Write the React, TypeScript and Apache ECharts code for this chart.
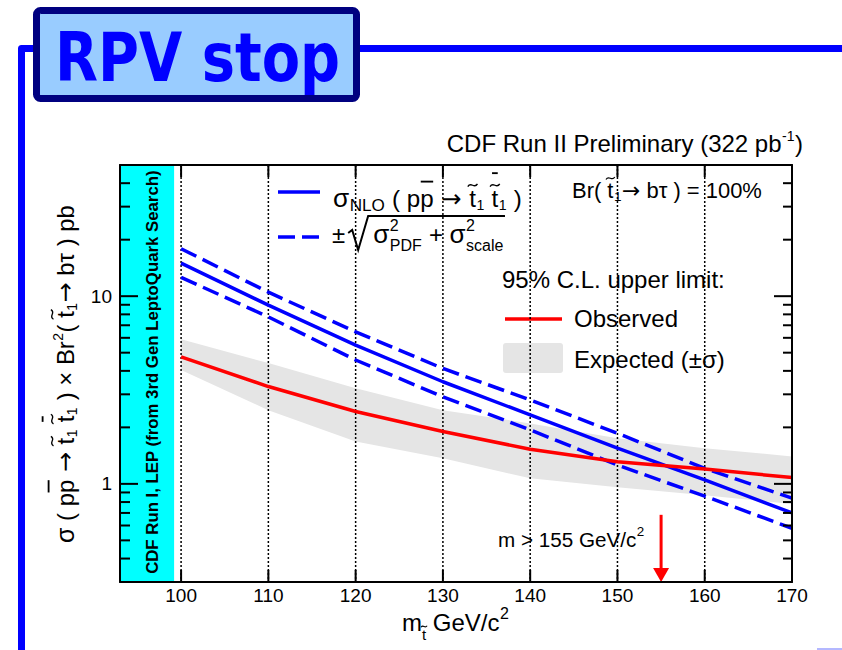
import React, { useEffect, useRef } from 'react';
import * as echarts from 'echarts';

// ---- data ----
const MASS = [100, 110, 120, 130, 140, 150, 160, 170];
const OBSERVED = [4.75, 3.3, 2.43, 1.9, 1.53, 1.31, 1.2, 1.08];
const EXPECTED_UP = [5.9, 4.4, 3.23, 2.47, 2.1, 1.75, 1.55, 1.4];
const EXPECTED_LO = [4.04, 2.47, 1.68, 1.37, 1.07, 0.96, 0.87, 0.78];
const NLO = [15.0, 8.96, 5.49, 3.5, 2.33, 1.55, 1.05, 0.7];
const NLO_UP = [17.9, 10.5, 6.46, 4.12, 2.8, 1.86, 1.21, 0.84];
const NLO_LO = [12.6, 7.76, 4.57, 2.91, 1.94, 1.26, 0.86, 0.58];
const X_RANGE = [93, 170];
const Y_RANGE = [0.3, 50];
const X_TICKS = [100, 110, 120, 130, 140, 150, 160, 170];
const GRID_X = [100, 110, 120, 130, 140, 150, 160];
const Y_MAJOR = [1, 10];
const Y_MINOR = [0.4, 0.5, 0.6, 0.7, 0.8, 0.9, 2, 3, 4, 5, 6, 7, 8, 9, 20, 30, 40];
const EXCLUDED = [93, 99.2];
const LIMIT_MASS = 155;
const ARROW_Y = [0.684, 0.3];

const FONT = 'Liberation Sans';
const ARROW_FONT = 'DejaVu Sans';
const K = 0.35;
const BLUE = '#0000ff';
const RED = '#ff0000';

let measureCtx: CanvasRenderingContext2D | null = null;
function tw(text: string, size: number, family = FONT, bold = false): number {
  if (!measureCtx) measureCtx = document.createElement('canvas').getContext('2d');
  if (!measureCtx) return text.length * size * 0.55;
  measureCtx.font = `${bold ? 'bold ' : ''}${size}px "${family}"`;
  return measureCtx.measureText(text).width;
}

function txt(text: string, x: number, base: number, size: number, o: any = {}) {
  const align = o.align || 'left';
  return {
    type: 'text',
    x,
    y: base - K * size,
    z: o.z ?? 1,
    scaleX: o.scaleX ?? 1,
    style: {
      text,
      fontSize: size,
      fontFamily: o.family || FONT,
      fontWeight: o.bold ? 'bold' : 'normal',
      fill: o.fill || '#000',
      align,
      textAlign: align,
      verticalAlign: 'middle',
      textVerticalAlign: 'middle',
    },
  };
}

type Piece = {
  t?: string; s: number; dy?: number; tilde?: boolean; bar?: number;
  sup?: string; sub?: string; ss?: number; supDy?: number; subDy?: number;
  bold?: boolean; gap?: number; family?: string;
};

function scalePieces(ps: Piece[], f: number): Piece[] {
  return ps.map((p) => ({
    ...p,
    s: p.s * f,
    dy: p.dy !== undefined ? p.dy * f : undefined,
    ss: p.ss !== undefined ? p.ss * f : undefined,
    supDy: p.supDy !== undefined ? p.supDy * f : undefined,
    subDy: p.subDy !== undefined ? p.subDy * f : undefined,
    gap: p.gap !== undefined ? p.gap * f : undefined,
  }));
}

function layout(pieces: Piece[], family = FONT, fill = '#000', z = 1) {
  const els: any[] = [];
  let x = 0;
  const marks: number[] = [];
  for (const p of pieces) {
    if (p.gap) { marks.push(x); x += p.gap; }
    if (!p.t) continue;
    const fam = p.family || family;
    const w = tw(p.t, p.s, fam, p.bold);
    const b = p.dy || 0;
    els.push(txt(p.t, x, b, p.s, { family: fam, bold: p.bold, fill, z }));
    if (p.tilde) {
      const tw2 = Math.max(6, 0.4 * p.s);
      const cx = x + w / 2;
      const cy = b - 0.9 * p.s;
      const a = Math.max(1.5, 0.11 * p.s);
      els.push({
        type: 'bezierCurve', z,
        shape: {
          x1: cx - tw2 / 2, y1: cy + a * 0.5,
          cpx1: cx - tw2 / 6, cpy1: cy - a * 1.6,
          cpx2: cx + tw2 / 6, cpy2: cy + a * 1.6,
          x2: cx + tw2 / 2, y2: cy - a * 0.5,
        },
        style: { stroke: fill, lineWidth: Math.max(1.1, p.s / 18), fill: null },
      });
    }
    if (p.bar) {
      els.push({
        type: 'line', z,
        shape: { x1: x + 0.5, y1: b - p.bar * p.s, x2: x + w - 0.5, y2: b - p.bar * p.s },
        style: { stroke: fill, lineWidth: Math.max(1.5, p.s / 13) },
      });
    }
    let adv = w;
    if (p.sup || p.sub) {
      const ss = p.ss || Math.round(p.s * 0.6);
      let w2 = 0;
      const sx = x + w + 0.5;
      if (p.sup) {
        els.push(txt(p.sup, sx, b + (p.supDy ?? -0.45 * p.s), ss, { family, fill, z }));
        w2 = Math.max(w2, tw(p.sup, ss, family));
      }
      if (p.sub) {
        els.push(txt(p.sub, sx, b + (p.subDy ?? 0.22 * p.s), ss, { family, fill, z }));
        w2 = Math.max(w2, tw(p.sub, ss, family));
      }
      adv += w2 + 1;
    }
    x += adv;
  }
  return { els, width: x, marks };
}

function placed(pieces0: Piece[], x: number, base: number, o: any = {}) {
  let pieces = pieces0;
  if (o.fit) {
    const L0 = layout(pieces, o.family || FONT);
    pieces = scalePieces(pieces, o.fit / L0.width);
  }
  const L = layout(pieces, o.family || FONT, o.fill || '#000', o.z ?? 1);
  const anchor = o.anchor || 'left';
  const off = anchor === 'left' ? 0 : anchor === 'center' ? -L.width / 2 : -L.width;
  const s0 = pieces[0].s;
  return {
    group: {
      type: 'group', x, y: base, rotation: o.rotation || 0,
      children: [{ type: 'group', x: off, y: o.centered ? K * s0 : 0, children: L.els }],
    },
    L,
  };
}

function buildGraphic() {
  const g: any[] = [];
  // blue frame
  g.push({
    type: 'polyline', z: 0,
    shape: { points: [[21.5, 660], [21.5, 48.5], [860, 48.5]] },
    style: { stroke: BLUE, lineWidth: 7, lineJoin: 'round', fill: null },
  });
  g.push({ type: 'rect', z: 0, shape: { x: 817, y: 648, width: 25, height: 2 }, style: { fill: '#b4b8ff' } });
  // title box
  g.push({
    type: 'rect', z: 0,
    shape: { x: 36.5, y: 10.5, width: 320, height: 88, r: 4 },
    style: { fill: '#99ccff', stroke: '#000080', lineWidth: 7 },
  });
  const tSize = 67;
  const tW = tw('RPV stop', tSize, 'DejaVu Sans', true);
  g.push(txt('RPV stop', 55, 82, tSize, { family: 'DejaVu Sans', bold: true, fill: BLUE, z: 0, scaleX: 285 / tW }));

  // CDF header
  g.push(placed([
    { t: 'CDF Run II Preliminary (322 pb', s: 24, sup: '-1', ss: 14, supDy: -11 },
    { t: ')', s: 24 },
  ], 803, 152, { anchor: 'right' }).group);

  // y axis title (rotated)
  const yt: Piece[] = [
    { t: 'σ', s: 25 },
    { t: ' ( p', s: 24 },
    { t: 'p', s: 24, bar: 1.05 },
    { t: ' → ', s: 24, family: ARROW_FONT },
    { t: 't', s: 24, tilde: true, sub: '1', ss: 14, subDy: 3 },
    { t: ' ', s: 24 },
    { t: 't', s: 24, tilde: true, bar: 1.3, sub: '1', ss: 14, subDy: 3 },
    { t: ' ) × Br', s: 24, sup: '2', ss: 14, supDy: -11 },
    { t: '( ', s: 24 },
    { t: 't', s: 24, tilde: true, sub: '1', ss: 14, subDy: 3 },
    { t: '→', s: 24, family: ARROW_FONT },
    { t: ' bτ ) pb', s: 24 },
  ];
  g.push(placed(yt, 65, 374, { anchor: 'center', rotation: Math.PI / 2, centered: true, fit: 338 }).group);

  // cyan band text (rotated)
  g.push(placed([{ t: 'CDF Run I, LEP (from 3rd Gen LeptoQuark Search)', s: 15, bold: true }], 152, 372,
    { anchor: 'center', rotation: Math.PI / 2, centered: true, z: 6, fit: 404 }).group);

  // x axis title
  g.push(placed([
    { t: 'm', s: 24 },
    { t: 't', s: 15, dy: 9, tilde: true },
    { t: ' GeV/c', s: 24, sup: '2', ss: 16, supDy: -12 },
  ], 402, 631).group);

  // legend: NLO
  g.push({ type: 'line', z: 1, shape: { x1: 278, y1: 192, x2: 320, y2: 192 }, style: { stroke: BLUE, lineWidth: 3.5 } });
  g.push({ type: 'line', z: 1, shape: { x1: 278, y1: 237, x2: 322, y2: 237 }, style: { stroke: BLUE, lineWidth: 3.5, lineDash: [17, 7] } });
  g.push(placed([
    { t: 'σ', s: 26, sub: 'NLO', ss: 17, subDy: 4 },
    { t: ' ( p', s: 24 },
    { t: 'p', s: 24, bar: 1.05 },
    { t: ' → ', s: 24, family: ARROW_FONT },
    { t: 't', s: 24, tilde: true, sub: '1', ss: 14, subDy: 3 },
    { t: ' ', s: 24 },
    { t: 't', s: 24, tilde: true, bar: 1.4, sub: '1', ss: 14, subDy: 3 },
    { t: ' )', s: 24 },
  ], 333, 207, { fit: 189 }).group);

  const l2 = placed([
    { t: '±', s: 24 },
    { gap: 28, s: 24 },
    { t: 'σ', s: 26, sup: '2', sub: 'PDF', ss: 16, supDy: -12, subDy: 8 },
    { t: ' + ', s: 24 },
    { t: 'σ', s: 26, sup: '2', sub: 'scale', ss: 16, supDy: -12, subDy: 8 },
  ], 332, 243);
  const xs = 332 + l2.L.marks[0] + 3;
  const xe = 332 + l2.L.width + 1;
  g.push(l2.group);
  g.push({
    type: 'polyline', z: 1,
    shape: { points: [[xs, 233], [xs + 4, 230], [xs + 10, 250], [xs + 20, 216], [xe, 216]] },
    style: { stroke: '#000', lineWidth: 2, fill: null },
  });

  // Br text
  g.push(placed([
    { t: 'Br( ', s: 21 },
    { t: 't', s: 21, tilde: true, sub: '1', ss: 13, subDy: 3 },
    { t: '→', s: 21, family: ARROW_FONT },
    { t: ' bτ ) = 100%', s: 21 },
  ], 572, 198, { fit: 190 }).group);

  // limit legend
  g.push(txt('95% C.L. upper limit:', 502, 288, 24));
  g.push({ type: 'line', z: 1, shape: { x1: 505, y1: 319, x2: 562, y2: 319 }, style: { stroke: RED, lineWidth: 3.5 } });
  g.push(txt('Observed', 574, 327, 24));
  g.push({ type: 'rect', z: 1, shape: { x: 503, y: 343, width: 60, height: 30, r: 3 }, style: { fill: '#e5e5e5' } });
  g.push(txt('Expected (±σ)', 574, 368, 24));

  // arrow annotation
  g.push(placed([{ t: 'm > 155 GeV/c', s: 20, sup: '2', ss: 13, supDy: -10 }], 498, 547, { fit: 147 }).group);
  return g;
}

export default function App() {
  const ref = useRef<HTMLDivElement>(null);
  useEffect(() => {
    if (!ref.current) return;
    const chart = echarts.init(ref.current, null, { renderer: 'svg' });
    const pairs = (ys: number[]) => MASS.map((m, i) => [m, ys[i]]);

    const custom = (name: string, z: number, data: any[], renderItem: any) => ({
      type: 'custom', name, z, silent: true, data, renderItem, clip: false,
      xAxisIndex: 0, yAxisIndex: 0,
    });

    const line = (name: string, ys: number[], color: string, dash: any) => ({
      type: 'line', name, z: 3, data: pairs(ys), symbol: 'none', silent: true,
      lineStyle: { color, width: 3.5, type: dash },
    });

    const axisCommon = {
      min: X_RANGE[0], max: X_RANGE[1], z: 10,
      axisLine: { show: true, onZero: false, lineStyle: { color: '#000', width: 2 } },
      axisTick: { show: false },
      splitLine: { show: false },
    };
    const yCommon = {
      type: 'log', logBase: 10, min: Y_RANGE[0], max: Y_RANGE[1], z: 10,
      axisLine: { show: true, onZero: false, lineStyle: { color: '#000', width: 2 } },
      axisTick: { show: false },
      splitLine: { show: false },
      minorTick: { show: false },
      minorSplitLine: { show: false },
    };

    chart.setOption({
      animation: false,
      backgroundColor: '#fff',
      grid: { left: 120, right: 50, top: 165, bottom: 68 },
      xAxis: [
        {
          ...axisCommon, type: 'value', position: 'bottom',
          axisLabel: { customValues: X_TICKS, color: '#000', fontSize: 19, fontFamily: FONT, margin: 4 },
        },
        { ...axisCommon, type: 'value', position: 'top', axisLabel: { show: false } },
      ],
      yAxis: [
        {
          ...yCommon, position: 'left',
          axisLabel: {
            color: '#000', fontSize: 19, fontFamily: FONT, margin: 8,
            formatter: (v: number) => {
              const m = Y_MAJOR.find((t) => Math.abs(t - v) < 1e-6 * t);
              return m === undefined ? '' : String(m);
            },
          },
        },
        { ...yCommon, position: 'right', axisLabel: { show: false } },
      ],
      series: [
        custom('excluded', 0, [[EXCLUDED[0], Y_RANGE[0]]], (_p: any, api: any) => {
          const a = api.coord([EXCLUDED[0], Y_RANGE[1]]);
          const b = api.coord([EXCLUDED[1], Y_RANGE[0]]);
          return { type: 'rect', shape: { x: a[0], y: a[1], width: b[0] - a[0], height: b[1] - a[1] }, style: { fill: '#00ffff' } };
        }),
        custom('expected', 1, [[MASS[0], EXPECTED_UP[0]]], (_p: any, api: any) => {
          const up = MASS.map((m, i) => api.coord([m, EXPECTED_UP[i]]));
          const lo = MASS.map((m, i) => api.coord([m, EXPECTED_LO[i]])).reverse();
          return { type: 'polygon', shape: { points: up.concat(lo) }, style: { fill: '#e5e5e5' } };
        }),
        custom('grid', 2, GRID_X.map((v) => [v, Y_RANGE[0]]), (_p: any, api: any) => {
          const v = api.value(0);
          const a = api.coord([v, Y_RANGE[1]]);
          const b = api.coord([v, Y_RANGE[0]]);
          return { type: 'line', shape: { x1: a[0], y1: a[1], x2: b[0], y2: b[1] }, style: { stroke: '#000', lineWidth: 1.5, lineDash: [2, 2] } };
        }),
        line('nlo-up', NLO_UP, BLUE, [17, 7]),
        line('nlo', NLO, BLUE, 'solid'),
        line('nlo-lo', NLO_LO, BLUE, [17, 7]),
        line('observed', OBSERVED, RED, 'solid'),
        custom('arrow', 4, [[LIMIT_MASS, ARROW_Y[0]]], (_p: any, api: any) => {
          const a = api.coord([LIMIT_MASS, ARROW_Y[0]]);
          const b = api.coord([LIMIT_MASS, ARROW_Y[1]]);
          return {
            type: 'group', children: [
              { type: 'line', shape: { x1: a[0], y1: a[1], x2: b[0], y2: b[1] - 12 }, style: { stroke: RED, lineWidth: 3 } },
              { type: 'polygon', shape: { points: [[b[0] - 8, b[1] - 14], [b[0] + 8, b[1] - 14], [b[0], b[1]]] }, style: { fill: RED } },
            ],
          };
        }),
        custom('xticks', 5, X_TICKS.map((v) => [v, Y_RANGE[0]]), (_p: any, api: any) => {
          const v = api.value(0);
          const b = api.coord([v, Y_RANGE[0]]);
          const t = api.coord([v, Y_RANGE[1]]);
          const st = { stroke: '#000', lineWidth: 2 };
          return {
            type: 'group', children: [
              { type: 'line', shape: { x1: b[0], y1: b[1], x2: b[0], y2: b[1] - 12 }, style: st },
              { type: 'line', shape: { x1: t[0], y1: t[1], x2: t[0], y2: t[1] + 12 }, style: st },
            ],
          };
        }),
        custom('ymajor', 5, Y_MAJOR.map((v) => [X_RANGE[0], v]), (_p: any, api: any) => {
          const v = api.value(1);
          const l = api.coord([X_RANGE[0], v]);
          const r = api.coord([X_RANGE[1], v]);
          const st = { stroke: '#000', lineWidth: 2 };
          return {
            type: 'group', children: [
              { type: 'line', shape: { x1: l[0], y1: l[1], x2: l[0] + 18, y2: l[1] }, style: st },
              { type: 'line', shape: { x1: r[0], y1: r[1], x2: r[0] - 18, y2: r[1] }, style: st },
            ],
          };
        }),
        custom('yminor', 5, Y_MINOR.map((v) => [X_RANGE[0], v]), (_p: any, api: any) => {
          const v = api.value(1);
          const l = api.coord([X_RANGE[0], v]);
          const r = api.coord([X_RANGE[1], v]);
          const st = { stroke: '#000', lineWidth: 2 };
          return {
            type: 'group', children: [
              { type: 'line', shape: { x1: l[0], y1: l[1], x2: l[0] + 10, y2: l[1] }, style: st },
              { type: 'line', shape: { x1: r[0], y1: r[1], x2: r[0] - 9, y2: r[1] }, style: st },
            ],
          };
        }),
      ],
      graphic: buildGraphic(),
    });
    return () => chart.dispose();
  }, []);
  return <div ref={ref} style={{ position: 'fixed', left: 0, top: 0, width: 842, height: 650 }} />;
}
